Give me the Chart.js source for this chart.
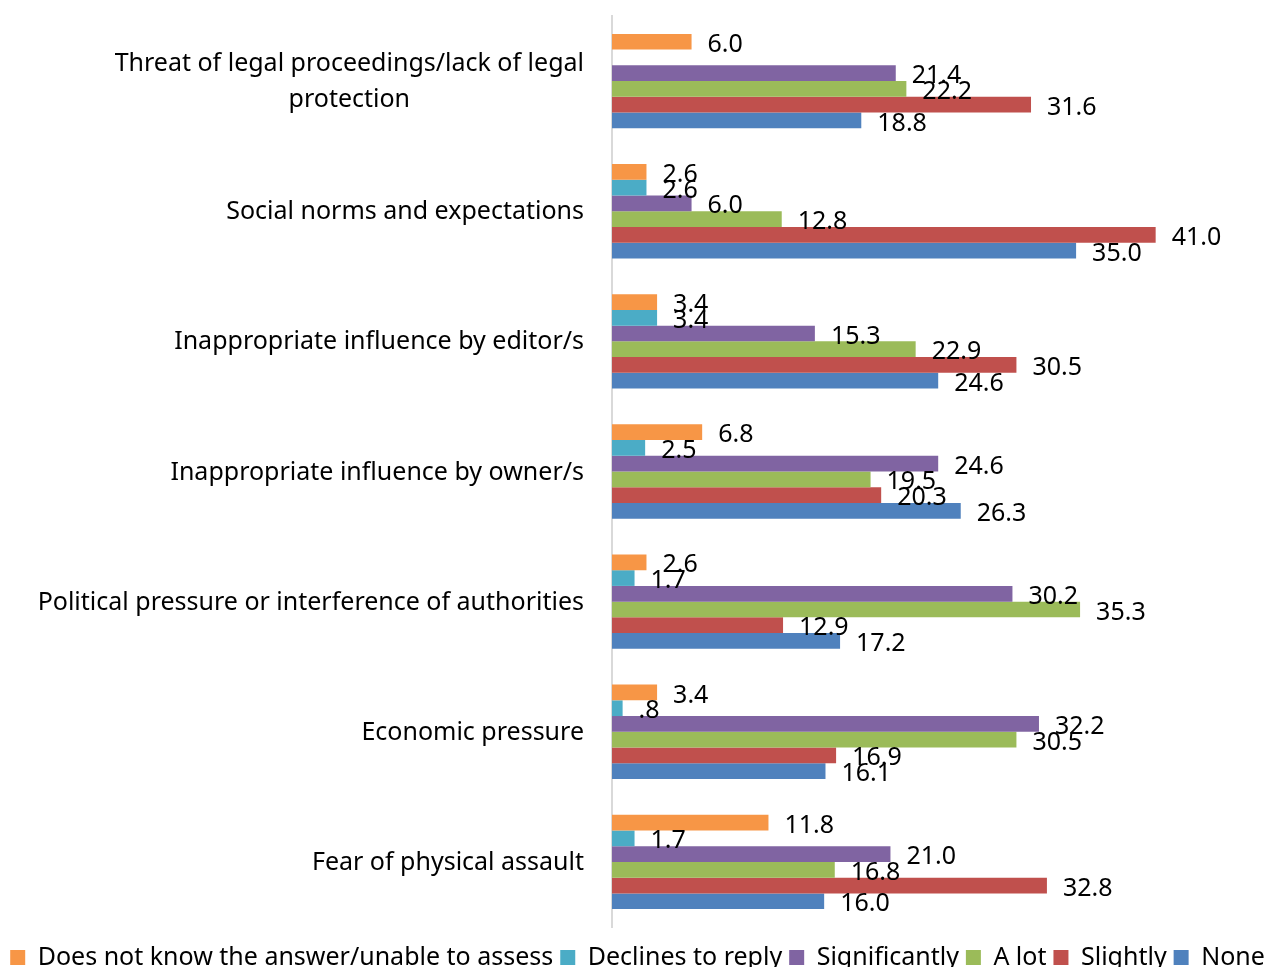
<!DOCTYPE html>
<html>
<head>
<meta charset="utf-8">
<script src="https://cdn.jsdelivr.net/npm/chart.js@4/dist/chart.umd.min.js"></script>
<style>
  html, body { margin: 0; padding: 0; background: #fff; overflow: hidden; }
  #wrap { position: relative; width: 1275px; height: 980px; }
</style>
</head>
<body>
<div id="wrap"><canvas id="barchart"></canvas></div>
<script>
categories = [
  ['Threat of legal proceedings/lack of legal', 'protection'],
  'Social norms and expectations',
  'Inappropriate influence by editor/s',
  'Inappropriate influence by owner/s',
  'Political pressure or interference of authorities',
  'Economic pressure',
  'Fear of physical assault'
]

series_names = ['Does not know the answer/unable to assess', 'Declines to reply', 'Significantly', 'A lot', 'Slightly', 'None']
series_colors = ['#F79646', '#4BACC6', '#8064A2', '#9BBB59', '#C0504D', '#4F81BD']

does_not_know = [6.0, 2.6, 3.4, 6.8, 2.6, 3.4, 11.8]
declines = [null, 2.6, 3.4, 2.5, 1.7, 0.8, 1.7]
significantly = [21.4, 6.0, 15.3, 24.6, 30.2, 32.2, 21.0]
a_lot = [22.2, 12.8, 22.9, 19.5, 35.3, 30.5, 16.8]
slightly = [31.6, 41.0, 30.5, 20.3, 12.9, 16.9, 32.8]
none = [18.8, 35.0, 24.6, 26.3, 17.2, 16.1, 16.0]

series_values = [does_not_know, declines, significantly, a_lot, slightly, none]

const FONT = '"Noto Sans", sans-serif'
const FONT_SIZE = 25

datasets = []
for (let i = 0; i < series_names.length; i++) {
  datasets.push({
    label: series_names[i],
    data: series_values[i],
    backgroundColor: series_colors[i],
    borderWidth: 0,
    categoryPercentage: 0.725,
    barPercentage: 1.0
  })
}

function fmt(v) {
  let s = v.toFixed(1)
  if (v < 1) s = s.replace(/^0/, '')
  return s
}

// value labels at the end of every bar
const valueLabels = {
  id: 'valueLabels',
  afterDatasetsDraw(chart) {
    const ctx = chart.ctx
    ctx.save()
    ctx.font = FONT_SIZE + 'px ' + FONT
    ctx.fillStyle = '#000'
    ctx.textAlign = 'left'
    ctx.textBaseline = 'middle'
    chart.data.datasets.forEach((ds, i) => {
      const meta = chart.getDatasetMeta(i)
      meta.data.forEach((el, j) => {
        const v = ds.data[j]
        if (v === null || v === undefined) return
        ctx.fillText(fmt(v), el.x + 16, el.y + 3)
      })
    })
    ctx.restore()
  }
}

// category labels: right aligned block, lines centred inside it
const categoryLabels = {
  id: 'categoryLabels',
  afterDraw(chart) {
    const ctx = chart.ctx
    const y = chart.scales.y
    ctx.save()
    ctx.font = FONT_SIZE + 'px ' + FONT
    ctx.fillStyle = '#000'
    ctx.textAlign = 'center'
    ctx.textBaseline = 'middle'
    const right = y.right - 28
    chart.data.labels.forEach((lab, i) => {
      const lines = Array.isArray(lab) ? lab : [lab]
      let w = 0
      lines.forEach(l => { w = Math.max(w, ctx.measureText(l).width) })
      const cy = y.getPixelForValue(i) + 1
      const lh = 36
      const top = cy - (lines.length - 1) * lh / 2
      lines.forEach((l, k) => {
        ctx.fillText(l, right - w / 2, top + k * lh)
      })
    })
    ctx.restore()
  }
}

new Chart(
  document.getElementById('barchart'),
  {
    type: 'bar',
    data: { labels: categories, datasets: datasets },
    options: {
      indexAxis: 'y',
      responsive: true,
      maintainAspectRatio: false,
      animation: false,
      layout: { padding: { top: 16, right: 0, left: 0, bottom: 0 } },
      plugins: {
        legend: {
          position: 'bottom',
          labels: {
            font: { family: FONT, size: FONT_SIZE },
            color: '#000',
            boxWidth: 15,
            boxHeight: 15,
            padding: 7
          }
        },
        tooltip: { enabled: false }
      },
      scales: {
        x: {
          min: 0,
          max: 50,
          ticks: { display: false },
          grid: { display: false },
          border: { display: false },
          afterFit(s) { s.height = 11 }
        },
        y: {
          ticks: { display: false },
          grid: { display: false },
          border: { display: true, color: '#d9d9d9', width: 2 },
          afterFit(s) { s.width = 612 }
        }
      }
    },
    plugins: [valueLabels, categoryLabels]
  }
);
</script>
</body>
</html>
